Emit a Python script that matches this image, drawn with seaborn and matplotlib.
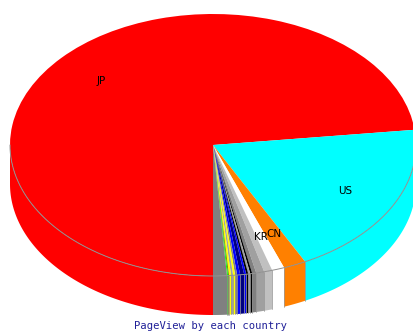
import numpy as np
import matplotlib
matplotlib.use("Agg")
import matplotlib.pyplot as plt
from matplotlib.patches import Polygon
import seaborn as sns

# dados (page views por pais)
paises = ['JP', 'US', 'CN', 'KR', 'TW', 'HK', 'DE', 'GB', 'FR', 'CA',
          'AU', 'SG', 'TH', 'BR', 'IN', 'IT', 'NL', 'ES', 'RU', 'other']
valores = [7317, 1936, 180, 99, 65, 64, 32, 16, 16, 16,
           16, 32, 24, 16, 16, 16, 16, 8, 8, 110]
cores = ['#ff0000', '#00ffff', '#ff8000', '#ffffff', '#c0c0c0', '#a0a0a0',
         '#808080', '#000000', '#a0a0a0', '#000000', '#0000ff', '#000080',
         '#0000ff', '#808080', '#ffff00', '#a0a0a0', '#ffff00', '#808000',
         '#00ff00', '#808080']
rotulos = [p if i < 4 else '' for i, p in enumerate(paises)]
titulo = 'PageView by each country'

sns.set_style("white")

fig = plt.figure(figsize=(4.14, 3.34), dpi=100)
ax = fig.add_axes([0, 0, 1, 1])

# geometria (pixels -> unidades do pie)
cx, cy, rx, ry, prof = 213, 145, 203, 131, 39
d = prof / ry

# paredes laterais (so a metade da frente)
fracs = np.array(valores) / np.sum(valores)
inicio = -90 - 360 * np.concatenate([[0], np.cumsum(fracs)[:-1]])
fim = inicio - 360 * fracs
for a0, a1, c in zip(inicio, fim, cores):
    for k in range(-2, 3):
        lo = max(a1, -180 - 360 * k)
        hi = min(a0, -360 * k)
        if hi <= lo:
            continue
        t = np.radians(np.linspace(lo, hi, 100))
        xs, ys = np.cos(t), np.sin(t)
        pts = np.column_stack([np.concatenate([xs, xs[::-1]]),
                               np.concatenate([ys, ys[::-1] - d])])
        ax.add_patch(Polygon(pts, closed=True, facecolor=c,
                             edgecolor='none', linewidth=0, zorder=1))

# linhas verticais entre fatias na frente
for a in fim[:-1]:
    if np.sin(np.radians(a)) < -0.01:
        x, y = np.cos(np.radians(a)), np.sin(np.radians(a))
        ax.plot([x, x], [y, y - d], color='#909090', linewidth=0.5, zorder=1.5)

# topo
ax.pie(valores, colors=cores, startangle=-90, counterclock=False,
       labels=rotulos, labeldistance=0.74,
       wedgeprops=dict(linewidth=0, zorder=2),
       textprops=dict(ha='center', va='center', fontsize=7.5,
                      family='DejaVu Sans', color='black', zorder=5))

t = np.radians(np.linspace(-180, 0, 300))
ax.plot(np.cos(t), np.sin(t), color='#909090', linewidth=0.7, zorder=3)

ax.set_aspect('auto')
ax.set_xlim(-cx / rx, (414 - cx) / rx)
ax.set_ylim((cy - 334) / ry, cy / ry)
ax.axis('off')

fig.text(211 / 414, 1 - 326 / 334, titulo, ha='center', va='center',
         fontsize=7.6, family='DejaVu Sans Mono', color='#202098')

fig.savefig('out.png', dpi=100, facecolor='white')
